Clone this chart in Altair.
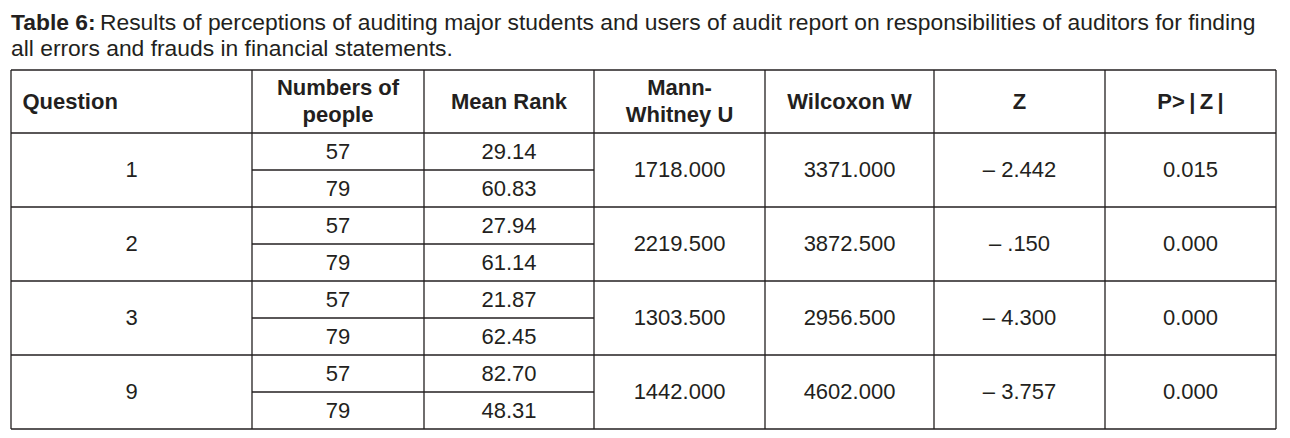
import altair as alt
import pandas as pd

# ---- data ----
questions = ["1", "2", "3", "9"]
numbers_of_people = ["57", "79"]
mean_rank = [["29.14", "60.83"], ["27.94", "61.14"], ["21.87", "62.45"], ["82.70", "48.31"]]
mann_whitney_u = ["1718.000", "2219.500", "1303.500", "1442.000"]
wilcoxon_w = ["3371.000", "3872.500", "2956.500", "4602.000"]
z_values = ["– 2.442", "– .150", "– 4.300", "– 3.757"]
p_values = ["0.015", "0.000", "0.000", "0.000"]
headers = [["Question"], ["Numbers of", "people"], ["Mean Rank"], ["Mann-", "Whitney U"],
           ["Wilcoxon W"], ["Z"], ["P>\u2009|\u2009Z\u2009|"]]
title_bold = "Table 6:"
title_line1 = "Results of perceptions of auditing major students and users of audit report on responsibilities of auditors for finding"
title_line2 = "all errors and frauds in financial statements."

# ---- layout (pixel space of the picture) ----
col_edges = [11, 252, 424, 594, 765, 934, 1105, 1276]
top_y = 70
header_bottom = 133
group_h = 74
FONT = "Liberation Sans"
INK = "#231f20"
FS = 22
TFS = 22.85
LINE_H = 27

group_edges = [header_bottom + i * group_h for i in range(len(questions) + 1)]

# rules
rules = []
rules.append(dict(x=col_edges[0], x2=col_edges[-1], y=top_y, y2=top_y))
for ge in group_edges:
    rules.append(dict(x=col_edges[0], x2=col_edges[-1], y=ge, y2=ge))
for ge in group_edges[:-1]:
    mid = ge + group_h / 2
    rules.append(dict(x=col_edges[1], x2=col_edges[3], y=mid, y2=mid))
for ce in col_edges:
    rules.append(dict(x=ce, x2=ce, y=top_y, y2=group_edges[-1]))
rules_df = pd.DataFrame(rules)

centers = [(col_edges[i] + col_edges[i + 1]) / 2 for i in range(len(col_edges) - 1)]

texts = []
# headers
hmid = (top_y + header_bottom) / 2
for i, lines in enumerate(headers):
    n = len(lines)
    for j, ln in enumerate(lines):
        y = hmid + (j - (n - 1) / 2) * LINE_H
        if i == 0:
            texts.append(dict(x=col_edges[0] + 11.5, y=y, t=ln, w="bold", a="left", s=FS))
        else:
            texts.append(dict(x=centers[i], y=y, t=ln, w="bold", a="center", s=FS))
# body
for g, q in enumerate(questions):
    top = group_edges[g]
    gm = top + group_h / 2
    sub = [top + group_h / 4, top + 3 * group_h / 4]
    texts.append(dict(x=centers[0], y=gm, t=q, w="normal", a="center", s=FS))
    for s in range(2):
        texts.append(dict(x=centers[1], y=sub[s], t=numbers_of_people[s], w="normal", a="center", s=FS))
        texts.append(dict(x=centers[2], y=sub[s], t=mean_rank[g][s], w="normal", a="center", s=FS))
    texts.append(dict(x=centers[3], y=gm, t=mann_whitney_u[g], w="normal", a="center", s=FS))
    texts.append(dict(x=centers[4], y=gm, t=wilcoxon_w[g], w="normal", a="center", s=FS))
    texts.append(dict(x=centers[5], y=gm, t=z_values[g], w="normal", a="center", s=FS))
    texts.append(dict(x=centers[6], y=gm, t=p_values[g], w="normal", a="center", s=FS))
# title
texts.append(dict(x=11, y=23, t=title_bold, w="bold", a="left", s=TFS))
texts.append(dict(x=100, y=23, t=title_line1, w="normal", a="left", s=TFS))
texts.append(dict(x=11, y=49, t=title_line2, w="normal", a="left", s=TFS))
text_df = pd.DataFrame(texts)

W, H = 1274, 422
xs = alt.Scale(domain=[8, 8 + W], nice=False, zero=False)
ys = alt.Scale(domain=[8, 8 + H], nice=False, zero=False, reverse=True)

rule_layer = alt.Chart(rules_df).mark_rule(color=INK, strokeWidth=1.3).encode(
    x=alt.X("x:Q", scale=xs, axis=None),
    x2="x2:Q",
    y=alt.Y("y:Q", scale=ys, axis=None),
    y2="y2:Q",
)

def text_layer(weight, align):
    d = text_df[(text_df.w == weight) & (text_df.a == align)]
    return alt.Chart(d).mark_text(
        font=FONT, fontWeight=weight, align=align, baseline="middle", color=INK
    ).encode(
        x=alt.X("x:Q", scale=xs, axis=None),
        y=alt.Y("y:Q", scale=ys, axis=None),
        size=alt.Size("s:Q", scale=None, legend=None),
        text="t:N",
    )

chart = alt.layer(
    rule_layer,
    text_layer("bold", "center"),
    text_layer("bold", "left"),
    text_layer("normal", "center"),
    text_layer("normal", "left"),
).properties(
    width=W, height=H, padding=0, autosize="none", background="white"
).configure_view(stroke=None)

chart.save("out.html", embed_options={"renderer": "svg", "actions": False})
